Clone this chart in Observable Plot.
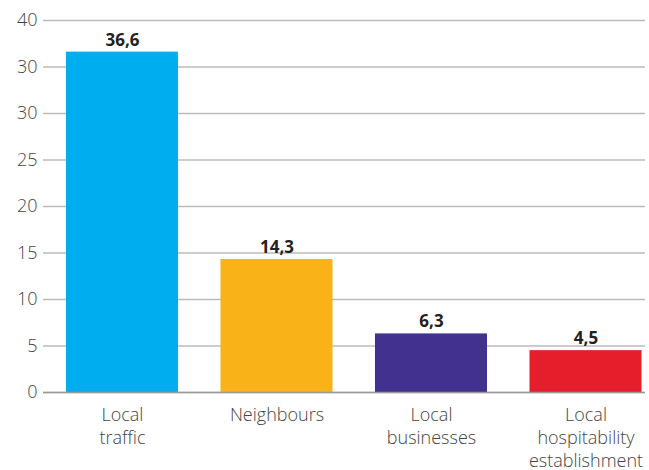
<!DOCTYPE html>
<html>
<head>
<meta charset="utf-8">
<script src="https://cdn.jsdelivr.net/npm/d3@7"></script>
<script src="https://cdn.jsdelivr.net/npm/@observablehq/plot@0.6"></script>
<style>
  html, body { margin: 0; padding: 0; background: #fff; }
  #chart svg { display: block; }
</style>
</head>
<body>
<div id="chart"></div>
<script>
const categories = ["Local\ntraffic", "Neighbours", "Local\nbusinesses", "Local\nhospitability\nestablishment"];
const values = [36.6, 14.3, 6.3, 4.5];
const valueLabels = ["36,6", "14,3", "6,3", "4,5"];
const barColors = ["#00AEEF", "#F9B218", "#433190", "#E61E2B"];
const yTicks = [0, 5, 10, 15, 20, 25, 30, 35, 40];
const yTickLabels = ["0", "5", "10", "15", "20", "25", "30", "30", "40"];

const data = categories.map((c, i) => ({category: c, value: values[i], label: valueLabels[i], color: barColors[i]}));

const chart = Plot.plot({
  width: 649,
  height: 470,
  marginLeft: 43,
  marginRight: 4,
  marginTop: 20,
  marginBottom: 78,
  style: {fontFamily: "'Open Sans', sans-serif", fontSize: "18px", color: "#444", background: "#fff"},
  x: {domain: categories, paddingInner: 0.275, paddingOuter: 0.0856, align: 0.868, round: false, label: null},
  y: {domain: [0, 40], label: null},
  marks: [
    Plot.gridY(yTicks, {stroke: "#bbb", strokeOpacity: 1, strokeWidth: 1.5}),
    Plot.barY(data, {x: "category", y: "value", fill: "color"}),
    Plot.ruleX([0], {frameAnchor: "left", y1: 0, y2: 40, stroke: "#999", strokeWidth: 1.5}),
    Plot.ruleY([0], {stroke: "#999", strokeWidth: 1.5}),
    Plot.axisY(yTicks, {tickSize: 0, tickPadding: 6, tickFormat: (d) => yTickLabels[yTicks.indexOf(d)], fontSize: 18, fontWeight: 300, fill: "#444"}),
    Plot.axisX({tickSize: 0, tickPadding: 12, lineHeight: 1.28, fontSize: 18, fontWeight: 300, fill: "#444"}),
    Plot.text(data, {x: "category", y: "value", text: "label", dy: -12, fontSize: 17, fontWeight: "bold", fill: "#222"})
  ]
});
document.getElementById("chart").appendChild(chart);
</script>
</body>
</html>
